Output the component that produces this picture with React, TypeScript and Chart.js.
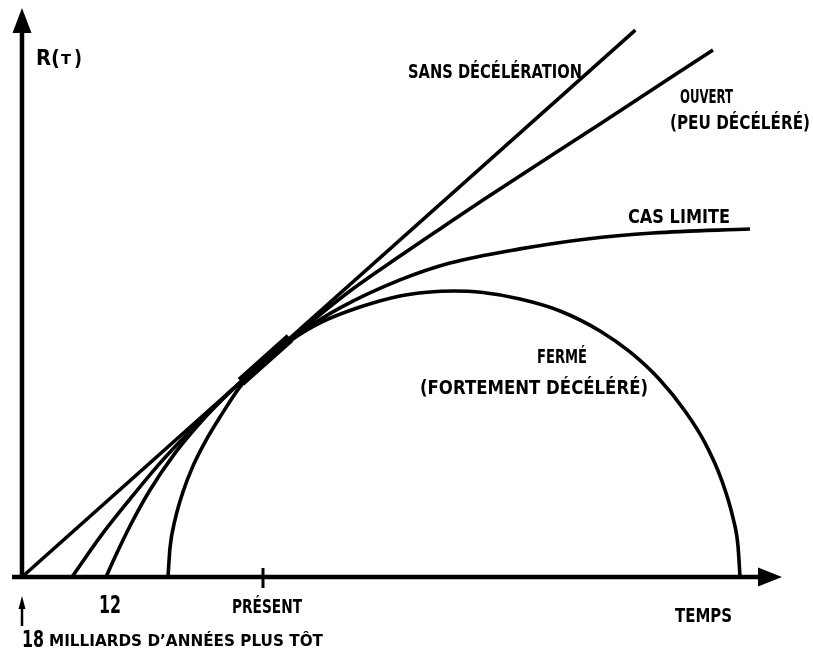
import React, { useEffect, useRef } from "react";
import { Chart, registerables } from "chart.js";

Chart.register(...registerables);

// Time in billions of years relative to the present (0); R relative to today's size
const T_SANS = [-18, 28];
const R_SANS = [0, 2.52];

const T_OUVERT = [-14.25, -12.15, -9.9, -7.65, -4.65, -2.4, 0, 2.85, 6.6, 10.35, 13.35, 16.575, 25.35, 33.825];
const R_OUVERT = [0, 0.184, 0.359, 0.525, 0.719, 0.853, 0.986, 1.134, 1.318, 1.479, 1.604, 1.737, 2.088, 2.429];

const T_LIMITE = [-11.7, -11.025, -9.9, -8.4, -6.525, -4.65, -2.4, 0, 2.85, 5.85, 10.35, 14.1, 19.35, 24.375, 29.325, 36.6];
const R_LIMITE = [0, 0.092, 0.235, 0.401, 0.571, 0.71, 0.853, 0.986, 1.124, 1.24, 1.369, 1.447, 1.512, 1.558, 1.585, 1.604];

const T_FERME = [-7.05, -6.9, -6.525, -5.925, -5.175, -4.275, -3.15, -1.65, 0, 2.1, 4.35, 7.35, 10.35, 12.375, 14.4, 16.425, 19.35, 22.35, 25.35, 27.6, 29.85, 31.725, 33.225, 34.5, 35.325, 35.7, 35.85];
const R_FERME = [0, 0.134, 0.263, 0.392, 0.512, 0.622, 0.737, 0.876, 0.986, 1.088, 1.171, 1.244, 1.295, 1.312, 1.318, 1.312, 1.281, 1.226, 1.134, 1.037, 0.908, 0.765, 0.618, 0.442, 0.272, 0.143, 0];

const T_PRESENT_SEG = [-1.575, 2.1];
const R_PRESENT_SEG = [0.9, 1.101];

// axis extents (data units)
const X_AXIS_T = [-18.75, 37.2, 39.0]; // start, arrow base, arrow tip
const Y_AXIS_R = [0, 2.507, 2.622];
const ORIGIN_T = -18;
const PRESENT_T = 0;

const SCALE_X = [-19.65, 41.325];
const SCALE_Y = [-0.3779, 2.659];

const CURVE_LABELS = ["SANS DÉCÉLÉRATION", "OUVERT", "(PEU DÉCÉLÉRÉ)", "CAS LIMITE", "FERMÉ", "(FORTEMENT DÉCÉLÉRÉ)"];
const TICK_LABELS = ["12", "PRÉSENT", "TEMPS"];
const ORIGIN_LABEL = ["18", "MILLIARDS D’ANNÉES PLUS TÔT"];
const Y_TITLE = ["R(", "T", ")"];

const FONT = '"DejaVu Sans", "Liberation Sans", sans-serif';

const toPts = (ts: number[], rs: number[]) => ts.map((t, i) => ({ x: t, y: rs[i] }));

function drawText(ctx: CanvasRenderingContext2D, text: string, left: number, bottom: number, size: number, width: number) {
  ctx.save();
  ctx.font = `bold ${size}px ${FONT}`;
  ctx.textBaseline = "alphabetic";
  ctx.textAlign = "left";
  const w = ctx.measureText(text).width;
  ctx.translate(left, bottom);
  ctx.scale(width / w, 1);
  ctx.fillStyle = "#000";
  ctx.fillText(text, 0, 0);
  ctx.restore();
}

const decorPlugin = {
  id: "decor",
  afterDatasetsDraw(chart: any) {
    const ctx: CanvasRenderingContext2D = chart.ctx;
    const xs = chart.scales.x;
    const ys = chart.scales.y;
    const px = (t: number) => xs.getPixelForValue(t);
    const py = (r: number) => ys.getPixelForValue(r);
    ctx.save();
    ctx.strokeStyle = "#000";
    ctx.fillStyle = "#000";
    ctx.lineCap = "butt";

    // x axis
    const y0 = py(0);
    ctx.lineWidth = 4.5;
    ctx.beginPath();
    ctx.moveTo(px(X_AXIS_T[0]), y0);
    ctx.lineTo(px(X_AXIS_T[1]) + 2, y0);
    ctx.stroke();
    ctx.beginPath();
    ctx.moveTo(px(X_AXIS_T[1]), y0 - 9.5);
    ctx.lineTo(px(X_AXIS_T[2]), y0);
    ctx.lineTo(px(X_AXIS_T[1]), y0 + 9.5);
    ctx.closePath();
    ctx.fill();

    // y axis
    const x0 = px(ORIGIN_T);
    ctx.beginPath();
    ctx.moveTo(x0, py(Y_AXIS_R[0]) + 2);
    ctx.lineTo(x0, py(Y_AXIS_R[1]) - 2);
    ctx.stroke();
    ctx.beginPath();
    ctx.moveTo(x0 - 9.5, py(Y_AXIS_R[1]));
    ctx.lineTo(x0, py(Y_AXIS_R[2]));
    ctx.lineTo(x0 + 9.5, py(Y_AXIS_R[1]));
    ctx.closePath();
    ctx.fill();

    // present tick
    ctx.lineWidth = 3;
    ctx.beginPath();
    ctx.moveTo(px(PRESENT_T) + 1, y0 - 9);
    ctx.lineTo(px(PRESENT_T) + 1, y0 + 11);
    ctx.stroke();

    // small arrow under origin
    ctx.lineWidth = 2.5;
    ctx.beginPath();
    ctx.moveTo(x0, y0 + 49);
    ctx.lineTo(x0, y0 + 28);
    ctx.stroke();
    ctx.beginPath();
    ctx.moveTo(x0 - 3.5, y0 + 32);
    ctx.lineTo(x0, y0 + 19);
    ctx.lineTo(x0 + 3.5, y0 + 32);
    ctx.closePath();
    ctx.fill();
    ctx.restore();

    // texts
    drawText(ctx, Y_TITLE[0], 36, 65, 21, 24);
    drawText(ctx, Y_TITLE[1], 61, 64, 14, 10);
    drawText(ctx, Y_TITLE[2], 74, 65, 21, 8);

    drawText(ctx, CURVE_LABELS[0], 408, 78, 20, 174);
    drawText(ctx, CURVE_LABELS[1], 680, 103, 20, 53);
    drawText(ctx, CURVE_LABELS[2], 670, 129, 19, 140);
    drawText(ctx, CURVE_LABELS[3], 628, 223, 20, 102);
    drawText(ctx, CURVE_LABELS[4], 537, 363, 20, 50);
    drawText(ctx, CURVE_LABELS[5], 420, 394, 19, 228);

    drawText(ctx, TICK_LABELS[0], 99, 613, 24, 22);
    drawText(ctx, TICK_LABELS[1], 232, 613, 19, 70);
    drawText(ctx, TICK_LABELS[2], 675, 622, 19, 57);

    drawText(ctx, ORIGIN_LABEL[0], 22, 647, 23, 22);
    drawText(ctx, ORIGIN_LABEL[1], 49, 646, 15, 274);
  },
};

export default function App() {
  const ref = useRef<HTMLCanvasElement | null>(null);

  useEffect(() => {
    if (!ref.current) return;
    const line = (data: { x: number; y: number }[], width = 3.6) => ({
      data,
      borderColor: "#000",
      backgroundColor: "#000",
      borderWidth: width,
      pointRadius: 0,
      cubicInterpolationMode: "monotone",
      fill: false,
    });
    const chart = new Chart(ref.current, {
      type: "line",
      data: {
        datasets: [
          { label: "Sans décélération", ...line(toPts(T_SANS, R_SANS)) },
          { label: "Ouvert", ...line(toPts(T_OUVERT, R_OUVERT)) },
          { label: "Cas limite", ...line(toPts(T_LIMITE, R_LIMITE)) },
          { label: "Fermé", ...line(toPts(T_FERME, R_FERME)) },
          { label: "Présent", ...line(toPts(T_PRESENT_SEG, R_PRESENT_SEG), 10) },
        ] as any,
      },
      options: {
        animation: false,
        responsive: true,
        maintainAspectRatio: false,
        layout: { padding: 0 },
        plugins: { legend: { display: false }, tooltip: { enabled: false } },
        events: [],
        scales: {
          x: { type: "linear", display: false, min: SCALE_X[0], max: SCALE_X[1] },
          y: { type: "linear", display: false, min: SCALE_Y[0], max: SCALE_Y[1] },
        },
      },
      plugins: [decorPlugin],
    });
    return () => chart.destroy();
  }, []);

  return (
    <div style={{ position: "fixed", left: 0, top: 0, width: 813, height: 659, background: "#fff" }}>
      <canvas ref={ref} />
    </div>
  );
}
